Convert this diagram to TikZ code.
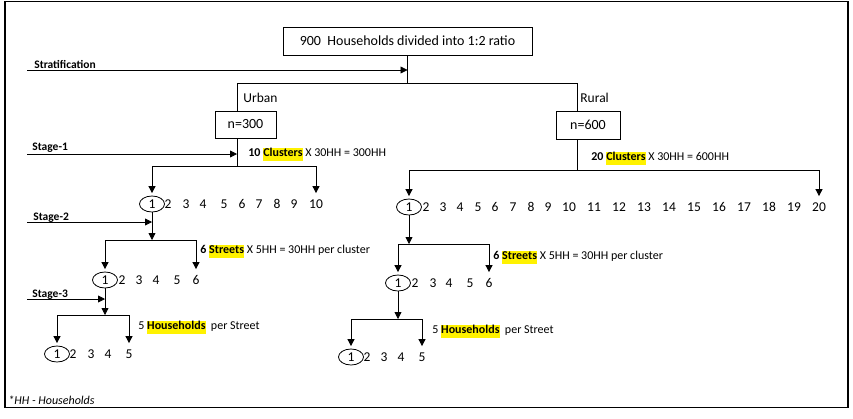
\documentclass[tikz,border=0pt]{standalone}
\usepackage{fontspec}
\setmainfont{Carlito}
\usetikzlibrary{arrows.meta, positioning, shapes, calc}
\newcommand{\hlt}[1]{{\setlength{\fboxsep}{0pt}\colorbox{yellow}{\strut\textbf{#1}}}}
\tikzset{
  box/.style={draw, rectangle, inner sep=0pt, font=\fontsize{14}{16}\selectfont},
  tag/.style={anchor=west, inner sep=0pt, font=\fontsize{13.5}{15}\selectfont},
  num/.style={inner sep=0pt, minimum height=16pt, font=\fontsize{13.5}{15}\selectfont},
  pick/.style={num, draw, ellipse, minimum width=25pt},
  stage/.style={anchor=base west, inner sep=0pt, font=\bfseries\fontsize{11.5}{13}\selectfont},
  note/.style={anchor=west, inner sep=0pt, font=\fontsize{12}{13}\selectfont},
  link/.style={draw, line width=0.8pt},
  flow/.style={link, -{Triangle[length=7pt, width=7pt]}},
  into/.style={flow, shorten >=2.5pt},
}

\begin{document}
\begin{tikzpicture}[x=1pt, y=-1pt, line width=0.8pt]
  \useasboundingbox (0,0) rectangle (853,418);
  \draw[line width=1.2pt] (5,1.5) rectangle (848,407.5);

  % stratification
  \node[box, minimum width=249pt, minimum height=28pt] (all) at (407.5,41) {900\ \ Households divided into 1:2 ratio};
  \coordinate (split) at (407.5,83);
  \coordinate (strat) at (27,70);
  \draw[link] (all.south) -- (split);
  \draw[flow] (strat) -- (strat -| split);
  \node[stage] (stratTag) at (34,68) {Stratification};

  \coordinate (uTop) at (237,83);
  \coordinate (rTop) at (577,83);
  \draw[link] (uTop) -- (rTop);
  \node[box, minimum width=61pt, minimum height=27pt] (urb) at (245.5,124.5) {n=300};
  \node[box, minimum width=64pt, minimum height=28pt] (rur) at (588,125) {n=600};
  \draw[link] (uTop) -- (uTop |- urb.north);
  \draw[link] (rTop) -- (rTop |- rur.north);
  \node[tag] (urbTag) at (243,98) {Urban};
  \node[tag] (rurTag) at (580,98) {Rural};

  % urban, stage 1
  \coordinate (u1fork) at (237,166);
  \coordinate (st1) at (27,154);
  \draw[link] (urb.south -| uTop) -- (u1fork);
  \draw[flow] (st1) -- (st1 -| uTop);
  \node[stage] (st1Tag) at (32,150) {Stage-1};
  \node[note] (u1Note) at (248,154) {\textbf{10} \hlt{Clusters} X 30HH = 300HH};
  \node[pick] (u1) at (152,204) {1};
  \foreach \n/\x in {2/168,3/186,4/203,5/224,6/242,7/259,8/277,9/294,10/316}
    \node[num] (u\n) at (\x,204) {\n};
  \draw[link] (u1.north |- u1fork) -- (u10.north |- u1fork);
  \draw[into] (u1.north |- u1fork) -- (u1.north);
  \draw[into] (u10.north |- u1fork) -- (u10.north);

  % urban, stage 2
  \coordinate (u2fork) at (152,240);
  \coordinate (st2) at (27,222);
  \draw[flow] (u1.south) -- (u2fork);
  \draw[flow] (st2) -- (st2 -| u1);
  \node[stage] (st2Tag) at (33,220) {Stage-2};
  \node[note] (u2Note) at (200,251) {\textbf{6} \hlt{Streets} X 5HH = 30HH per cluster};
  \node[pick] (v1) at (105,280) {1};
  \foreach \n/\x in {2/122,3/139,4/156,5/177,6/196}
    \node[num] (v\n) at (\x,280) {\n};
  \draw[link] (v1.north |- u2fork) -- (v6.north |- u2fork);
  \draw[into] (v1.north |- u2fork) -- (v1.north);
  \draw[into] (v6.north |- u2fork) -- (v6.north);

  % urban, stage 3
  \coordinate (u3fork) at (105,315);
  \coordinate (st3) at (27,299);
  \draw[flow] (v1.south) -- (u3fork);
  \draw[flow] (st3) -- (st3 -| v1);
  \node[stage] (st3Tag) at (32,297) {Stage-3};
  \node[note] (u3Note) at (138,327) {5 \hlt{Households}\ \ per Street};
  \node[pick] (w1) at (57,354) {1};
  \foreach \n/\x in {2/73,3/91,4/108,5/129}
    \node[num] (w\n) at (\x,354) {\n};
  \draw[link] (w1.north |- u3fork) -- (w5.north |- u3fork);
  \draw[into] (w1.north |- u3fork) -- (w1.north);
  \draw[into] (w5.north |- u3fork) -- (w5.north);

  % rural, stage 1
  \coordinate (r1fork) at (577,170);
  \draw[link] (rur.south -| rTop) -- (r1fork);
  \node[note] (r1Note) at (591,158) {\textbf{20} \hlt{Clusters} X 30HH = 600HH};
  \node[pick] (r1) at (409,207) {1};
  \foreach \n/\x in {2/426,3/443,4/460,5/478,6/495,7/513,8/531,9/548,10/569,
      11/594,12/619,13/644,14/669,15/694,16/719,17/744,18/769,19/794,20/819}
    \node[num] (r\n) at (\x,207) {\n};
  \draw[link] (r1.north |- r1fork) -- (r20.north |- r1fork);
  \draw[into] (r1.north |- r1fork) -- (r1.north);
  \draw[into] (r20.north |- r1fork) -- (r20.north);

  % rural, stage 2
  \coordinate (r2fork) at (409,244);
  \draw[flow] (r1.south) -- (r2fork);
  \node[note] (r2Note) at (493,257) {\textbf{6} \hlt{Streets} X 5HH = 30HH per cluster};
  \node[pick] (s1) at (398,283) {1};
  \foreach \n/\x in {2/415,3/433,4/449,5/470,6/489}
    \node[num] (s\n) at (\x,283) {\n};
  \draw[link] (s1.north |- r2fork) -- (s6.north |- r2fork);
  \draw[into] (s1.north |- r2fork) -- (s1.north);
  \draw[into] (s6.north |- r2fork) -- (s6.north);

  % rural, stage 3
  \coordinate (r3fork) at (398,319);
  \draw[flow] (s1.south) -- (r3fork);
  \node[note] (r3Note) at (432,331) {5 \hlt{Households}\ \ per Street};
  \node[pick] (t1) at (351,357) {1};
  \foreach \n/\x in {2/367,3/384,4/401,5/422}
    \node[num] (t\n) at (\x,357) {\n};
  \draw[link] (t1.north |- r3fork) -- (t5.north |- r3fork);
  \draw[into] (t1.north |- r3fork) -- (t1.north);
  \draw[into] (t5.north |- r3fork) -- (t5.north);

  \node[anchor=west, inner sep=0pt, font=\itshape\fontsize{12}{13}\selectfont] (key) at (8,400) {*HH - Households};
\end{tikzpicture}
\end{document}
